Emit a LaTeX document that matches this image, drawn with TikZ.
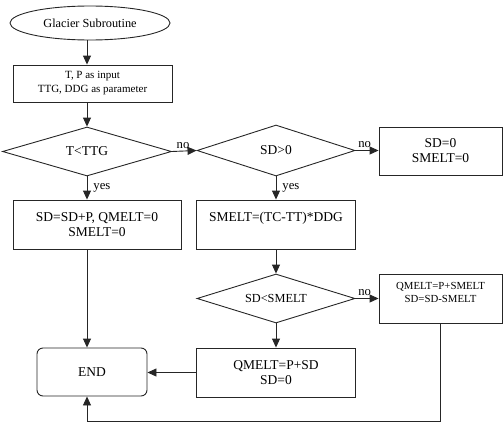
\documentclass[tikz,border=0pt]{standalone}
\usepackage{fontspec}
\setmainfont{Liberation Serif}
\usetikzlibrary{shapes.geometric,arrows.meta}
\tikzset{
  base/.style={draw=black!85, line width=0.9pt, inner sep=0pt, align=center, font=\fontsize{13.5}{15}\selectfont},
  boxr/.style={base, rectangle},
  dia/.style={base, diamond, aspect=3.2},
  arr/.style={draw=black!85, line width=0.9pt, -{Triangle[length=9pt,width=8pt]}},
  lab/.style={font=\fontsize{12.7}{14}\selectfont, inner sep=0pt}
}
\begin{document}
\begin{tikzpicture}[x=1pt,y=-1pt]
\useasboundingbox (0,0) rectangle (503,423);
\node[base, ellipse, minimum width=160, minimum height=34, font=\fontsize{12.3}{14}\selectfont] (start) at (90,23) {Glacier Subroutine};
\node[boxr, minimum width=159, minimum height=37, font=\fontsize{11}{14}\selectfont] (input) at (92.5,83.5) {T, P as input\\TTG, DDG as parameter};
\node[dia, minimum width=169, minimum height=49] (d1) at (87,151.5) {T<TTG};
\node[dia, minimum width=158, minimum height=51] (d2) at (276,150.5) {SD>0};
\node[boxr, minimum width=123, minimum height=48] (sd0) at (440.5,151) {SD=0\\SMELT=0};
\node[boxr, minimum width=168, minimum height=49] (b1) at (97,224.5) {SD=SD+P, QMELT=0\\SMELT=0};
\node[boxr, minimum width=159, minimum height=49] (smelt) at (276,224.5) {SMELT=(TC-TT)*DDG\\\mbox{}};
\node[dia, minimum width=158, minimum height=49, font=\fontsize{12.3}{14}\selectfont] (d3) at (276,298.5) {SD<SMELT};
\node[boxr, minimum width=123, minimum height=49, font=\fontsize{10.8}{13}\selectfont] (qps) at (440.5,298.5) {QMELT=P+SMELT\\SD=SD-SMELT\\\mbox{}};
\node[boxr, minimum width=159, minimum height=49] (qpsd) at (276,372.5) {QMELT=P+SD\\SD=0};
\node[boxr, rounded corners=6pt, minimum width=110, minimum height=48] (end) at (92,372) {END};
\coordinate (c1) at (87,0);
\coordinate (loop) at (87,421);

\draw[arr] (start.south -| c1) -- (input.north -| c1);
\draw[arr] (input.south -| c1) -- (d1.north);
\draw[arr] (d1.east) -- (d2.west) node[lab, pos=0.45, above=2pt] {no};
\draw[arr] (d2.east) -- (d2.east -| sd0.west) node[lab, pos=0.4, above=2pt] {no};
\draw[arr] (d1.south) -- (d1.south |- b1.north) node[lab, midway, right=6pt] {yes};
\draw[arr] (d2.south) -- (smelt.north) node[lab, midway, right=6pt] {yes};
\draw[arr] (d1.south |- b1.south) -- (d1.south |- end.north);
\draw[arr] (smelt.south) -- (d3.north);
\draw[arr] (d3.east) -- (d3.east -| qps.west) node[lab, pos=0.4, above=2pt] {no};
\draw[arr] (d3.south) -- (qpsd.north);
\draw[arr] (qpsd.west) -- (qpsd.west -| end.east);
\draw[arr] (qps.south) |- (loop) -- (end.south -| loop);
\end{tikzpicture}
\end{document}
